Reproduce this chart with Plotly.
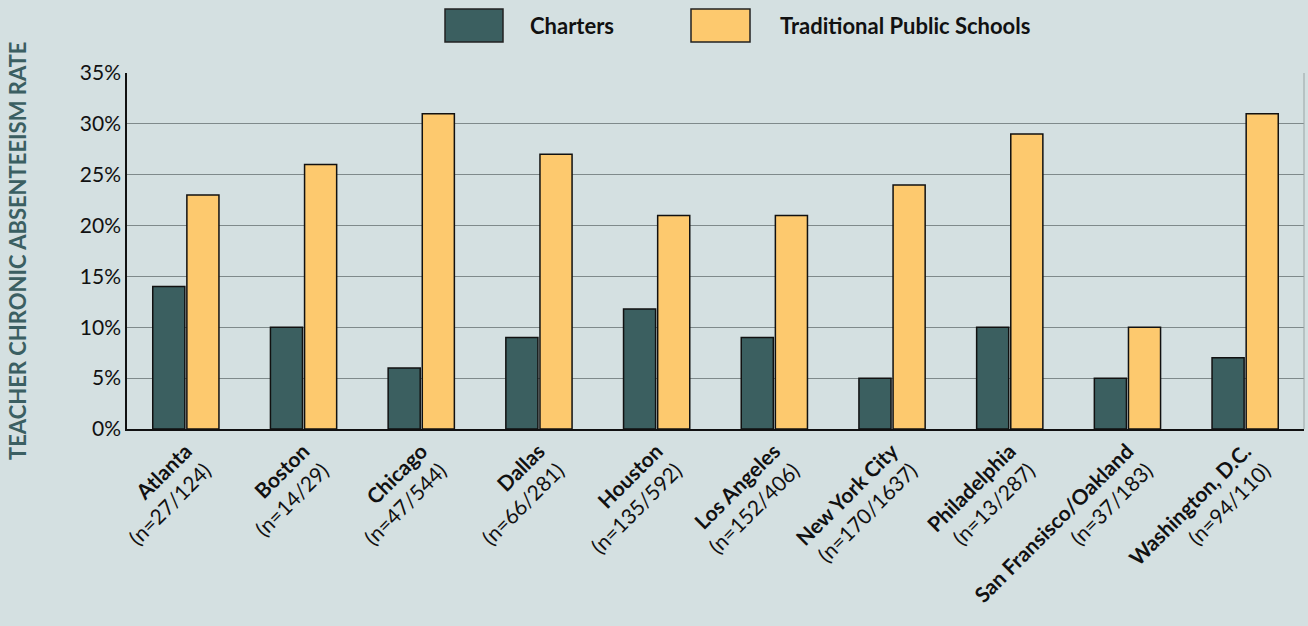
import plotly.graph_objects as go

cities = ["Atlanta", "Boston", "Chicago", "Dallas", "Houston", "Los Angeles",
          "New York City", "Philadelphia", "San Fransisco/Oakland", "Washington, D.C."]
sample_sizes = ["27/124", "14/29", "47/544", "66/281", "135/592", "152/406",
                "170/1637", "13/287", "37/183", "94/110"]
charters = [14, 10, 6, 9, 11.8, 9, 5, 10, 5, 7]
traditional = [23, 26, 31, 27, 21, 21, 24, 29, 10, 31]
series_names = ["Charters", "Traditional Public Schools"]
y_ticks = [0, 5, 10, 15, 20, 25, 30, 35]

BG = "#d4e0e1"
C1 = "#3b5f60"
C2 = "#fdc96e"
FONT = "Lato"

labels = [f"<b>{c}</b><br>(n={s})" for c, s in zip(cities, sample_sizes)]

fig = go.Figure()
fig.add_trace(go.Bar(x=labels, y=charters, name=series_names[0],
                     marker=dict(color=C1, line=dict(color="#111111", width=1.5)),
                     showlegend=False))
fig.add_trace(go.Bar(x=labels, y=traditional, name=series_names[1],
                     marker=dict(color=C2, line=dict(color="#111111", width=1.5)),
                     showlegend=False))

W, H = 1308, 626
L, R, T, B = 127, 4, 73, 197
pw, ph = W - L - R, H - T - B

def px(x):
    return (x - L) / pw

def py(y):
    return (H - B - y) / ph

# custom legend
legend_items = [(445, 503, 528, C1, series_names[0]), (691, 750, 778, C2, series_names[1])]
for x0, x1, tx, col, name in legend_items:
    fig.add_shape(type="rect", xref="paper", yref="paper",
                  x0=px(x0), x1=px(x1), y0=py(42), y1=py(9),
                  fillcolor=col, line=dict(color="#222222", width=1.5))
    fig.add_annotation(xref="paper", yref="paper", x=px(tx), y=py(26),
                       text=f"<b>{name}</b>", showarrow=False, xanchor="left",
                       yanchor="middle", font=dict(family=FONT, size=22, color="#111111"))

fig.add_annotation(xref="paper", yref="paper", x=0, xshift=-110, y=0.5,
                   text="<b>TEACHER CHRONIC ABSENTEEISM RATE</b>", textangle=-90,
                   showarrow=False, xanchor="center", yanchor="middle",
                   font=dict(family=FONT, size=22, color="#3b5f62"))

fig.update_layout(
    width=W, height=H,
    margin=dict(l=L, r=R, t=T, b=B, autoexpand=False),
    paper_bgcolor=BG, plot_bgcolor=BG,
    barmode="group", bargap=0.42, bargroupgap=0.06,
    font=dict(family=FONT, size=18, color="#111111"),
    showlegend=False,
)
fig.update_yaxes(range=[0, 35], tickvals=y_ticks, ticktext=[f"{v}%" for v in y_ticks],
                 showgrid=True, gridcolor="#7f8a8b", gridwidth=1,
                 showline=True, linecolor="#111111", linewidth=1.5,
                 ticks="", tickfont=dict(family=FONT, size=21, color="#111111"),
                 zeroline=False, automargin=False)
fig.update_xaxes(tickangle=-45, showline=True, linecolor="#111111", linewidth=1.5,
                 tickfont=dict(family=FONT, size=21, color="#111111"), ticks="",
                 mirror=False, automargin=False)
fig.add_shape(type="line", xref="paper", yref="paper", x0=1, x1=1, y0=0, y1=1,
              line=dict(color="#9aa4a5", width=1))

fig.write_html("out.html", config={"displayModeBar": False},
               post_script="document.body.style.margin='0';document.body.style.overflow='hidden';")
